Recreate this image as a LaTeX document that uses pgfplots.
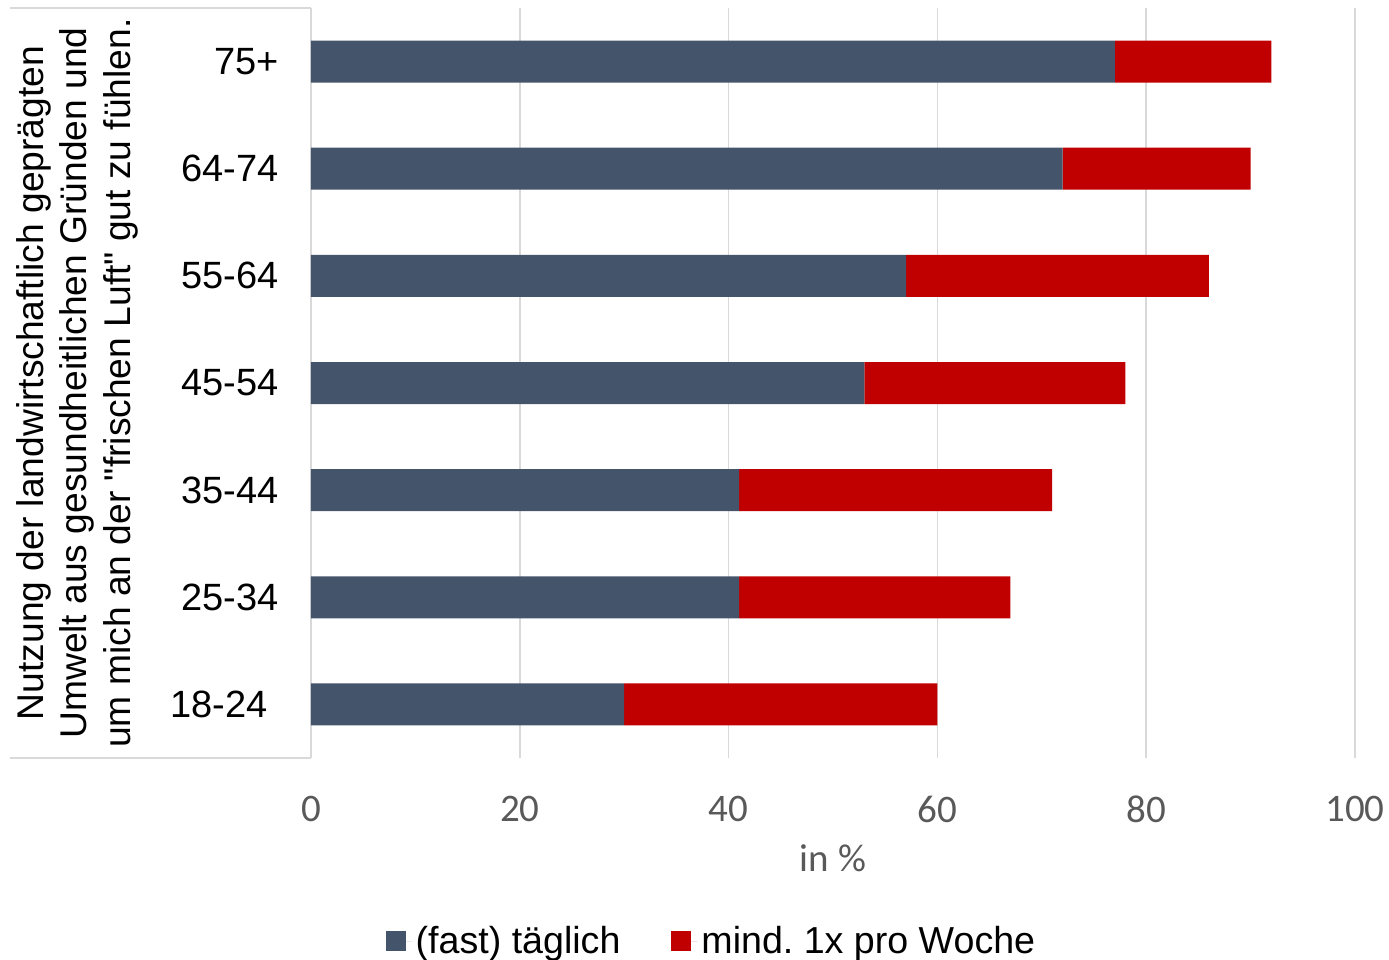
\documentclass[border=0pt]{standalone}
\usepackage{fontspec}
\setmainfont{Liberation Sans}
\newfontfamily\arial{Liberation Sans}
\newfontfamily\carlito{Carlito}
\usepackage{pgfplots}
\pgfplotsset{compat=1.18}
\definecolor{slate}{HTML}{44546A}
\definecolor{darkred}{HTML}{C00000}
\definecolor{gridgray}{HTML}{D9D9D9}
\definecolor{tickgray}{HTML}{595959}
\frenchspacing
\begin{document}
\begin{tikzpicture}
\begin{axis}[
  name=ax,
  at={(0,0)}, anchor=south west,
  scale only axis, width=522bp, height=375bp,
  xbar stacked, bar width=21bp,
  xmin=0, xmax=100, ymin=-0.5, ymax=6.5,
  xtick={0,20,...,100},
  ytick={0,...,6},
  yticklabels={18-24\rule{5.5bp}{0pt}, 25-34, 35-44, 45-54, 55-64, 64-74, 75+},
  xmajorgrids, major grid style={gridgray, line width=0.75bp},
  major tick length=0pt,
  axis lines=left, axis line style={draw=none},
  /pgf/number format/assume math mode=true,
  xticklabel style={font=\carlito\fontsize{19.5bp}{20bp}\selectfont, text=tickgray, inner sep=0pt, yshift=-18.75bp},
  yticklabel style={font=\fontsize{19bp}{20bp}\selectfont, text=black, inner sep=0pt, xshift=-16bp},
  xlabel={in \%},
  xlabel style={at={(axis description cs:0.5,-0.1333)}, anchor=center, font=\carlito\fontsize{19.5bp}{20bp}\selectfont, text=tickgray},
  ylabel={Nutzung der landwirtschaftlich geprägten\\Umwelt aus gesundheitlichen Gründen und\\um mich an der "frischen Luft" gut zu fühlen.},
  ylabel style={at={(axis description cs:-0.2241,0.5)}, anchor=center, align=center, font=\arial\fontsize{18.6bp}{21.8bp}\selectfont},
  legend style={at={(axis description cs:0.3845,-0.244)}, anchor=center, draw=none, legend columns=2,
    font=\fontsize{18.8bp}{20bp}\selectfont, /tikz/every even column/.append style={column sep=23.5bp}},
  legend image code/.code={\fill[#1] (0bp,-5bp) rectangle (10bp,5bp); \path (0bp,0bp) -- (13bp,0bp);},
]
\addplot[fill=slate, draw=none] coordinates {(30,0) (41,1) (41,2) (53,3) (57,4) (72,5) (77,6)};
\addplot[fill=darkred, draw=none] coordinates {(30,0) (26,1) (30,2) (25,3) (29,4) (18,5) (15,6)};
\legend{(fast) täglich, mind. 1x pro Woche}
\end{axis}
\draw[gridgray, line width=0.75bp] (-150.5bp,0) -- (0,0);
\draw[gridgray, line width=0.75bp] (-150.5bp,375bp) -- (0,375bp);
\pgfresetboundingbox
\path (-155.5bp,-101bp) rectangle (539bp,379bp);
\end{tikzpicture}
\end{document}
